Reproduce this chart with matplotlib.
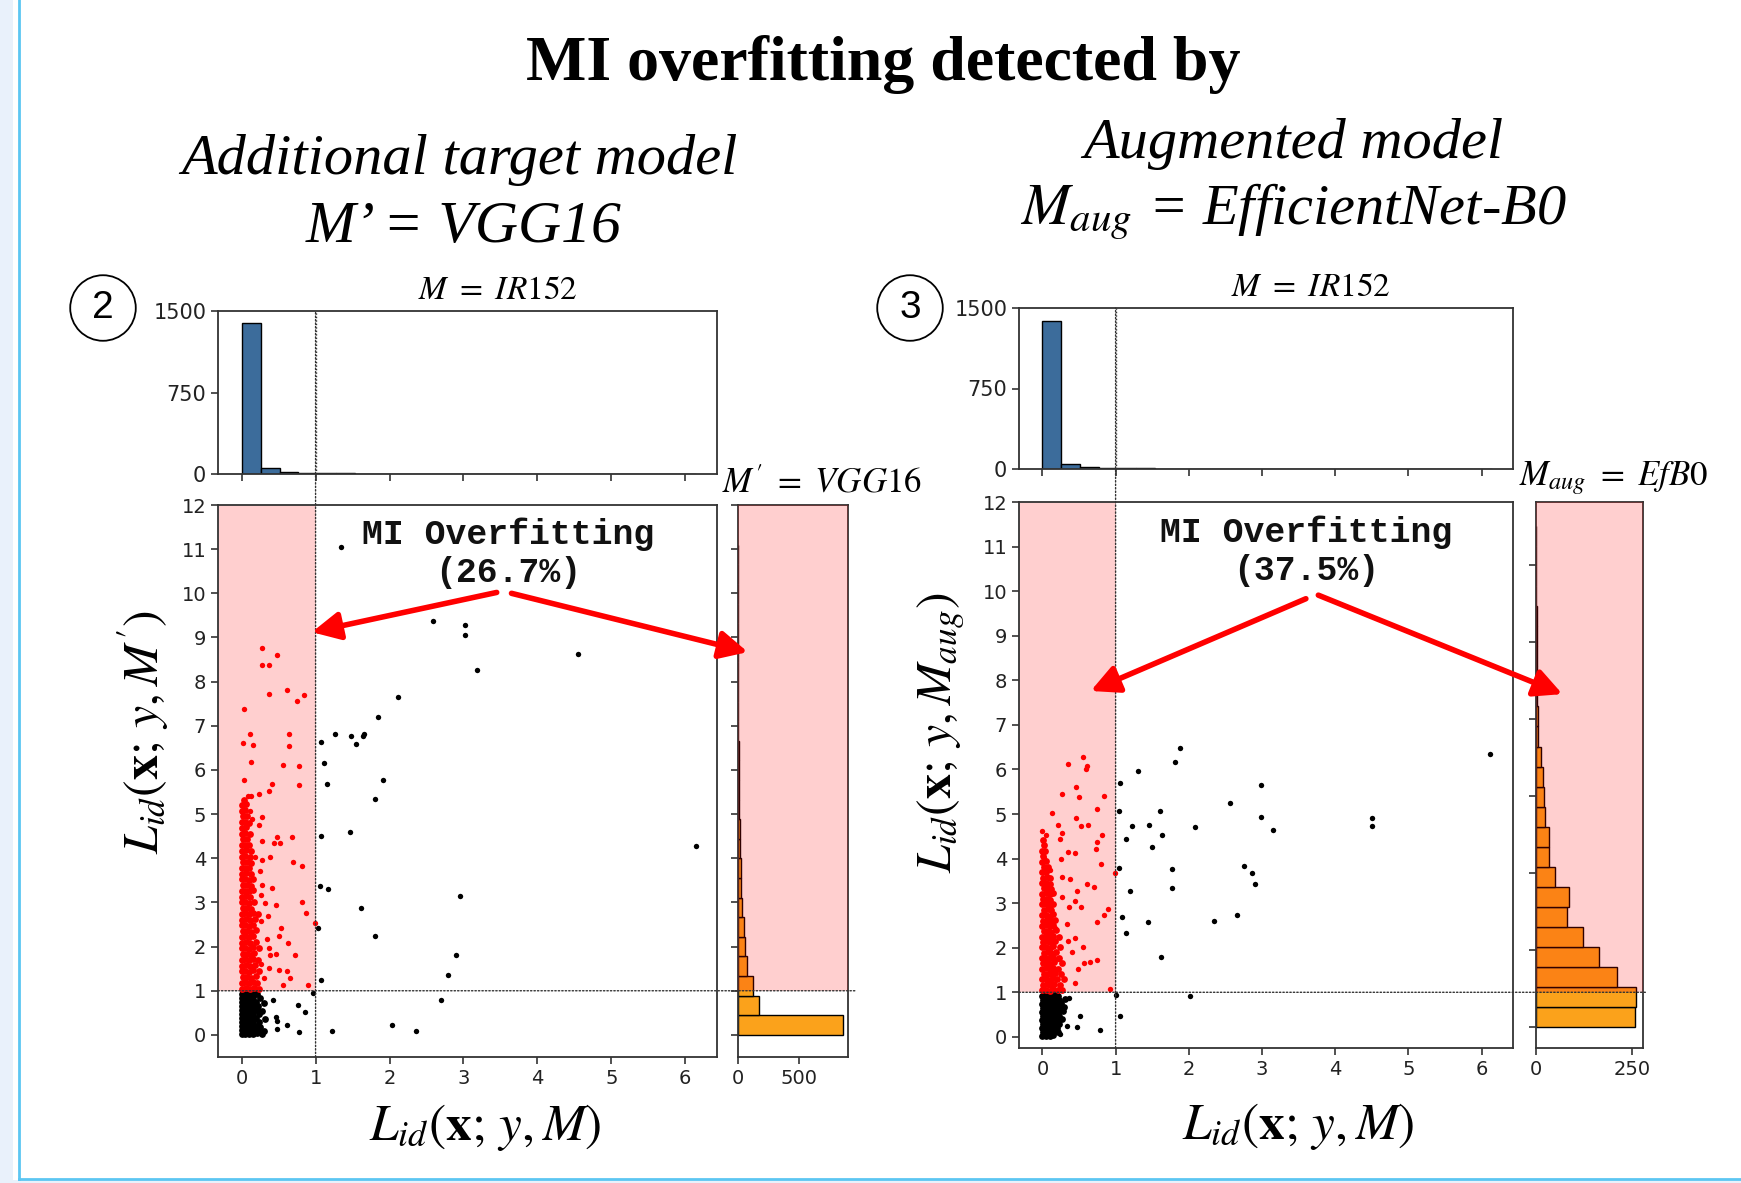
import numpy as np
import matplotlib
matplotlib.use("Agg")
import matplotlib.pyplot as plt
from matplotlib.patches import Rectangle, ConnectionPatch
from matplotlib.transforms import blended_transform_factory

plt.rcParams["mathtext.fontset"] = "stix"

THRESH = 1.0
XLIM = (-0.32, 6.43)

# ---------------- panel 2 : M' = VGG16 ----------------
vgg_pct = "26.7%"
vgg_top_counts = [1385, 55, 18, 10, 6, 5, 4, 3, 3, 2, 2, 2, 1, 2, 1, 1, 1, 2, 1, 0, 0, 0, 0, 1]
vgg_top_binw = 0.256
vgg_side_counts = [860, 175, 120, 70, 55, 47, 36, 28, 22, 17, 14, 11, 9, 7, 5, 4, 3, 3, 2, 2, 1, 1, 1, 1, 1]
vgg_side_binw = 0.444

vgg_red_sparse = [
    (0.28, 8.76), (0.48, 8.60), (0.27, 8.38), (0.37, 8.37), (0.03, 7.37), (0.37, 7.73), (0.61, 7.81),
    (0.75, 7.56), (0.85, 7.69), (0.11, 6.81), (0.02, 6.60), (0.16, 6.57), (0.64, 6.81), (0.64, 6.54),
    (0.13, 6.17), (0.56, 6.12), (0.77, 6.09), (0.03, 5.78), (0.77, 5.66), (0.37, 5.52), (0.41, 5.69),
    (0.23, 5.46), (0.12, 5.42), (0.08, 5.42), (0.11, 5.08), (0.14, 4.88), (0.28, 4.94), (0.23, 4.76),
    (0.48, 4.49), (0.68, 4.49), (0.44, 4.35), (0.52, 4.35), (0.28, 4.39), (0.18, 4.03), (0.39, 4.03),
    (0.69, 3.91), (0.82, 3.83), (0.28, 3.95), (0.25, 3.72), (0.28, 3.40), (0.41, 3.32), (0.26, 3.16),
    (0.32, 2.98), (0.47, 2.94), (0.81, 3.02), (0.36, 2.69), (0.87, 2.75), (0.26, 2.57), (0.99, 2.53),
    (0.53, 2.41), (0.50, 2.25), (0.34, 2.17), (0.63, 2.09), (0.37, 1.97), (0.46, 1.84), (0.39, 1.82),
    (0.72, 1.80), (0.26, 1.60), (0.37, 1.52), (0.50, 1.46), (0.61, 1.44), (0.66, 1.29), (0.56, 1.12),
    (0.90, 1.12), (0.30, 1.28),
]
vgg_red_dense = [
    (0.01, 1.05), (0.06, 1.06), (0.11, 1.04), (0.17, 1.07), (0.24, 1.05),
    (0.00, 1.18), (0.05, 1.19), (0.10, 1.17), (0.15, 1.20), (0.21, 1.18),
    (0.02, 1.31), (0.07, 1.32), (0.12, 1.30), (0.19, 1.33),
    (0.00, 1.44), (0.05, 1.45), (0.10, 1.43), (0.16, 1.46), (0.23, 1.44),
    (0.01, 1.57), (0.06, 1.58), (0.11, 1.56), (0.18, 1.59),
    (0.00, 1.70), (0.05, 1.71), (0.10, 1.69), (0.15, 1.72), (0.22, 1.70),
    (0.02, 1.83), (0.07, 1.84), (0.12, 1.82), (0.17, 1.85),
    (0.00, 1.96), (0.05, 1.97), (0.10, 1.95), (0.16, 1.98), (0.24, 1.96),
    (0.01, 2.09), (0.06, 2.10), (0.11, 2.08), (0.19, 2.11),
    (0.00, 2.22), (0.05, 2.23), (0.10, 2.21), (0.15, 2.24),
    (0.02, 2.35), (0.07, 2.36), (0.12, 2.34), (0.20, 2.37),
    (0.00, 2.48), (0.05, 2.49), (0.10, 2.47), (0.16, 2.50),
    (0.01, 2.61), (0.06, 2.62), (0.11, 2.60), (0.18, 2.63),
    (0.00, 2.74), (0.05, 2.75), (0.10, 2.73), (0.15, 2.76), (0.22, 2.74),
    (0.02, 2.87), (0.07, 2.88), (0.12, 2.86),
    (0.00, 3.00), (0.05, 3.01), (0.10, 2.99), (0.17, 3.02),
    (0.01, 3.13), (0.06, 3.14), (0.11, 3.12),
    (0.00, 3.26), (0.05, 3.27), (0.10, 3.25), (0.16, 3.28),
    (0.02, 3.39), (0.07, 3.40), (0.12, 3.38),
    (0.00, 3.52), (0.05, 3.53), (0.10, 3.51), (0.15, 3.54),
    (0.01, 3.65), (0.06, 3.66), (0.13, 3.64),
    (0.00, 3.78), (0.05, 3.79), (0.10, 3.77),
    (0.02, 3.91), (0.07, 3.92), (0.12, 3.90),
    (0.00, 4.04), (0.05, 4.05), (0.11, 4.03),
    (0.01, 4.17), (0.06, 4.18), (0.12, 4.16),
    (0.00, 4.30), (0.05, 4.31), (0.10, 4.29),
    (0.02, 4.43), (0.07, 4.44),
    (0.00, 4.56), (0.05, 4.57), (0.11, 4.55),
    (0.01, 4.69), (0.06, 4.70),
    (0.00, 4.82), (0.05, 4.83), (0.10, 4.81),
    (0.02, 4.95), (0.07, 4.96),
    (0.00, 5.08), (0.05, 5.09),
    (0.01, 5.21), (0.06, 5.22), (0.03, 5.32),
]
vgg_black_sparse = [
    (1.34, 11.05), (2.59, 9.37), (3.02, 9.29), (3.02, 9.06), (4.55, 8.62), (3.18, 8.26), (2.12, 7.65),
    (1.84, 7.20), (1.08, 6.63), (1.26, 6.81), (1.48, 6.76), (1.54, 6.59), (1.64, 6.78), (1.66, 6.81),
    (1.11, 6.15), (1.16, 5.69), (1.91, 5.77), (1.80, 5.34), (1.08, 4.51), (1.47, 4.59), (6.15, 4.27),
    (1.06, 3.37), (1.17, 3.30), (2.95, 3.14), (1.62, 2.88), (1.03, 2.43), (1.80, 2.23), (2.90, 1.80),
    (2.79, 1.36), (1.08, 1.24), (0.96, 0.94), (2.69, 0.79), (2.04, 0.23), (2.36, 0.08), (1.22, 0.10),
    (0.78, 0.06), (0.43, 0.79), (0.76, 0.67), (0.86, 0.53), (0.47, 0.40), (0.48, 0.31), (0.61, 0.23),
    (0.48, 0.13),
]
vgg_black_dense = [
    (0.00, 0.02), (0.05, 0.01), (0.10, 0.03), (0.15, 0.02), (0.21, 0.04), (0.27, 0.02),
    (0.01, 0.11), (0.06, 0.12), (0.11, 0.10), (0.16, 0.13), (0.22, 0.11), (0.30, 0.09),
    (0.00, 0.20), (0.05, 0.21), (0.10, 0.19), (0.15, 0.22), (0.19, 0.20), (0.25, 0.18),
    (0.01, 0.29), (0.06, 0.30), (0.11, 0.28), (0.16, 0.31), (0.23, 0.29),
    (0.00, 0.38), (0.05, 0.39), (0.10, 0.37), (0.15, 0.40), (0.20, 0.38), (0.32, 0.36),
    (0.01, 0.47), (0.06, 0.48), (0.11, 0.46), (0.16, 0.49), (0.24, 0.47),
    (0.00, 0.56), (0.05, 0.57), (0.10, 0.55), (0.15, 0.58), (0.21, 0.56), (0.28, 0.54),
    (0.01, 0.65), (0.06, 0.66), (0.11, 0.64), (0.16, 0.67), (0.22, 0.65),
    (0.00, 0.74), (0.05, 0.75), (0.10, 0.73), (0.15, 0.76), (0.20, 0.74), (0.30, 0.72),
    (0.01, 0.83), (0.06, 0.84), (0.11, 0.82), (0.16, 0.85), (0.25, 0.83),
    (0.00, 0.92), (0.05, 0.93), (0.10, 0.91), (0.15, 0.94), (0.21, 0.92),
    (0.02, 0.98), (0.08, 0.99), (0.13, 0.97), (0.18, 0.98),
]

# ---------------- panel 3 : M_aug = EfficientNet-B0 ----------------
aug_pct = "37.5%"
aug_top_counts = [1375, 45, 15, 8, 6, 5, 4, 3, 3, 2, 2, 2, 1, 1, 1, 1, 1, 2, 1, 0, 0, 0, 0, 1]
aug_top_binw = 0.256
aug_side_counts = [258, 262, 212, 165, 123, 81, 87, 50, 35, 33, 24, 20, 17, 14, 5, 4, 3, 3, 2, 2, 2, 1, 1, 1, 1]
aug_side_binw = 0.52

aug_red_sparse = [
    (0.55, 6.28), (0.35, 6.12), (0.61, 6.08), (0.59, 6.00), (0.46, 5.61), (0.27, 5.45), (0.50, 5.39),
    (0.84, 5.40), (0.13, 5.02), (0.75, 5.11), (0.46, 4.91), (0.21, 4.75), (0.53, 4.72), (0.62, 4.75),
    (0.00, 4.61), (0.05, 4.53), (0.27, 4.57), (0.24, 4.43), (0.81, 4.52), (0.74, 4.37), (0.73, 4.21),
    (0.02, 4.01), (0.25, 4.00), (0.35, 4.15), (0.45, 4.13), (0.80, 3.87), (0.11, 3.75), (0.99, 3.68),
    (0.27, 3.59), (0.38, 3.55), (0.61, 3.43), (0.70, 3.37), (0.47, 3.27), (0.27, 3.13), (0.44, 3.05),
    (0.36, 2.91), (0.53, 2.91), (0.89, 2.87), (0.84, 2.73), (0.74, 2.58), (0.34, 2.53), (0.17, 2.45),
    (0.45, 2.21), (0.35, 2.15), (0.56, 2.02), (0.40, 1.91), (0.21, 1.75), (0.57, 1.65), (0.65, 1.69),
    (0.75, 1.73), (0.49, 1.52), (0.44, 1.20), (0.93, 1.07),
]
aug_red_dense = [
    (0.00, 1.05), (0.05, 1.06), (0.10, 1.04), (0.15, 1.07), (0.21, 1.05), (0.27, 1.06),
    (0.01, 1.17), (0.06, 1.18), (0.11, 1.16), (0.16, 1.19), (0.24, 1.17),
    (0.00, 1.29), (0.05, 1.30), (0.10, 1.28), (0.15, 1.31), (0.20, 1.29), (0.30, 1.30),
    (0.02, 1.41), (0.07, 1.42), (0.12, 1.40), (0.17, 1.43), (0.25, 1.41),
    (0.00, 1.53), (0.05, 1.54), (0.10, 1.52), (0.15, 1.55), (0.21, 1.53),
    (0.01, 1.65), (0.06, 1.66), (0.11, 1.64), (0.16, 1.67), (0.27, 1.65),
    (0.00, 1.77), (0.05, 1.78), (0.10, 1.76), (0.15, 1.79), (0.22, 1.77),
    (0.02, 1.89), (0.07, 1.90), (0.12, 1.88), (0.18, 1.91),
    (0.00, 2.01), (0.05, 2.02), (0.10, 2.00), (0.15, 2.03), (0.24, 2.01),
    (0.01, 2.13), (0.06, 2.14), (0.11, 2.12), (0.17, 2.15),
    (0.00, 2.25), (0.05, 2.26), (0.10, 2.24), (0.15, 2.27), (0.22, 2.25),
    (0.02, 2.37), (0.07, 2.38), (0.12, 2.36), (0.18, 2.39),
    (0.00, 2.49), (0.05, 2.50), (0.10, 2.48), (0.15, 2.51),
    (0.01, 2.61), (0.06, 2.62), (0.11, 2.60), (0.17, 2.63),
    (0.00, 2.73), (0.05, 2.74), (0.10, 2.72), (0.15, 2.75),
    (0.02, 2.85), (0.07, 2.86), (0.12, 2.84),
    (0.00, 2.97), (0.05, 2.98), (0.10, 2.96), (0.15, 2.99),
    (0.01, 3.09), (0.06, 3.10), (0.11, 3.08),
    (0.00, 3.21), (0.05, 3.22), (0.10, 3.20), (0.14, 3.23),
    (0.02, 3.33), (0.07, 3.34), (0.12, 3.32),
    (0.00, 3.45), (0.05, 3.46), (0.10, 3.44),
    (0.01, 3.57), (0.06, 3.58), (0.11, 3.56),
    (0.00, 3.69), (0.05, 3.70), (0.02, 3.81), (0.07, 3.82),
    (0.00, 3.93), (0.05, 3.94), (0.01, 4.05), (0.00, 4.17), (0.04, 4.18),
    (0.02, 4.30), (0.01, 4.42),
]
aug_black_sparse = [
    (1.88, 6.48), (1.81, 6.16), (1.31, 5.97), (1.06, 5.70), (2.99, 5.65), (2.56, 5.25), (1.05, 5.06),
    (1.60, 5.06), (2.99, 4.93), (6.11, 6.34), (1.23, 4.74), (1.45, 4.76), (1.63, 4.53), (2.09, 4.70),
    (3.15, 4.64), (4.51, 4.91), (4.51, 4.74), (1.14, 4.43), (1.50, 4.27), (1.04, 3.79), (1.77, 3.76),
    (1.77, 3.35), (2.76, 3.83), (2.86, 3.68), (2.91, 3.43), (1.19, 3.28), (1.09, 2.69), (1.44, 2.58),
    (1.14, 2.34), (2.34, 2.61), (2.66, 2.73), (1.62, 1.80), (2.02, 0.92), (1.01, 0.95), (1.06, 0.47),
    (0.51, 0.47), (0.47, 0.22), (0.79, 0.16), (0.24, 0.06), (0.33, 0.24), (0.37, 0.88),
]
aug_black_dense = [
    (0.00, 0.02), (0.05, 0.01), (0.10, 0.03), (0.15, 0.04),
    (0.01, 0.11), (0.06, 0.12), (0.11, 0.10), (0.16, 0.13), (0.21, 0.12),
    (0.00, 0.20), (0.05, 0.21), (0.10, 0.19), (0.15, 0.22), (0.20, 0.20),
    (0.01, 0.29), (0.06, 0.30), (0.11, 0.28), (0.16, 0.31), (0.23, 0.29),
    (0.00, 0.38), (0.05, 0.39), (0.10, 0.37), (0.15, 0.40), (0.20, 0.38), (0.27, 0.40),
    (0.01, 0.47), (0.06, 0.48), (0.11, 0.46), (0.16, 0.49), (0.22, 0.47),
    (0.00, 0.56), (0.05, 0.57), (0.10, 0.55), (0.15, 0.58), (0.21, 0.56), (0.28, 0.58),
    (0.01, 0.65), (0.06, 0.66), (0.11, 0.64), (0.16, 0.67), (0.22, 0.65), (0.30, 0.66),
    (0.00, 0.74), (0.05, 0.75), (0.10, 0.73), (0.15, 0.76), (0.20, 0.74), (0.26, 0.76),
    (0.01, 0.83), (0.06, 0.84), (0.11, 0.82), (0.16, 0.85), (0.23, 0.83), (0.31, 0.84),
    (0.00, 0.92), (0.05, 0.93), (0.10, 0.91), (0.15, 0.94), (0.21, 0.92),
    (0.02, 0.98), (0.08, 0.99), (0.13, 0.97), (0.19, 0.98),
]

BLUE = "#3c6c9b"
ORANGE = "#fba21b"
W, H = 1741, 1183

fig = plt.figure(figsize=(W / 100, H / 100), dpi=100)


def px_box(l, t, r, b):
    return [l / W, 1 - b / H, (r - l) / W, (b - t) / H]


def style(ax):
    for s in ax.spines.values():
        s.set_linewidth(1.3)
        s.set_color("#333333")
    ax.tick_params(direction="out", length=5, width=1.2, labelsize=14, colors="#333333",
                   labelcolor="#222222")


def draw_panel(boxes, red_sparse, red_dense, black_sparse, black_dense, top_counts, top_w,
               side_counts, side_w, side_xlim, side_xticks, ylim, side_ylim, ylabel, side_label,
               side_label_x, top_label_x, pct, arrows, xlab_xy, ylab_xy, hline_end):
    top_box, sc_box, side_box = boxes
    ax = fig.add_axes(px_box(*sc_box))
    ax_top = fig.add_axes(px_box(*top_box), sharex=ax)
    if side_ylim is None:
        ax_side = fig.add_axes(px_box(*side_box), sharey=ax)
    else:
        ax_side = fig.add_axes(px_box(*side_box))
    for a in (ax, ax_top, ax_side):
        style(a)

    # scatter
    ax.set_xlim(*XLIM)
    ax.set_ylim(*ylim)
    ax.add_patch(Rectangle((XLIM[0], THRESH), THRESH - XLIM[0], ylim[1] - THRESH,
                           fc="red", alpha=0.19, lw=0, zorder=0))
    for pts, col, size in ((black_dense, "black", 24), (black_sparse, "black", 15),
                           (red_dense, "red", 24), (red_sparse, "red", 15)):
        pts = np.array(pts)
        ax.scatter(pts[:, 0], pts[:, 1], s=size, c=col, lw=0, zorder=2)
    ax.set_xticks(range(7))
    ax.set_yticks(range(13))
    ax.text(3.6, 10.9, "MI Overfitting\n(" + pct + ")", family="Liberation Mono",
            weight="bold", fontsize=25, ha="center", va="center", linespacing=1.2,
            color="#111111", zorder=4)
    ax.set_xlabel(r"$L_{id}(\mathbf{x};\, y, M)$", fontsize=37)
    ax.xaxis.set_label_coords(*xlab_xy)
    ax.xaxis.label.set_va("center")
    ax.set_ylabel(ylabel, fontsize=36)
    ax.yaxis.set_label_coords(*ylab_xy)
    ax.yaxis.label.set_va("center")

    # top histogram
    top_edges = np.arange(len(top_counts)) * top_w
    ax_top.bar(top_edges, top_counts, width=top_w, align="edge", color=BLUE,
               edgecolor="black", lw=1.0)
    ax_top.set_ylim(0, 1500)
    ax_top.set_yticks([0, 750, 1500])
    ax_top.tick_params(labelbottom=False, labelsize=15)
    ax_top.axvline(THRESH, color="#333333", ls=(0, (1, 1.5)), lw=1.0)
    ax_top.text(top_label_x, 1.03, r"$M\ =\ IR152$", transform=ax_top.transAxes,
                ha="center", va="bottom", fontsize=24)

    # side histogram
    side_edges = np.arange(len(side_counts)) * side_w
    ax_side.barh(side_edges, side_counts, height=side_w, align="edge", color=ORANGE,
                 edgecolor="black", lw=1.0, zorder=2)
    ax_side.set_xlim(*side_xlim)
    ax_side.set_xticks(side_xticks)
    if side_ylim is not None:
        ax_side.set_ylim(*side_ylim)
        ax_side.set_yticks(range(0, 13, 2))
    ax_side.tick_params(labelleft=False)
    mix = blended_transform_factory(ax_side.transAxes, ax.transData)
    ax_side.add_patch(Rectangle((0, THRESH), 1, ylim[1] - THRESH, transform=mix,
                                fc="red", alpha=0.19, lw=0, zorder=3))
    ax_side.text(side_label_x, 1.01, side_label, transform=ax_side.transAxes,
                 ha="center", va="bottom", fontsize=25)

    # dotted threshold lines
    fig.add_artist(ConnectionPatch((THRESH, ylim[0]), (THRESH, 1500), coordsA=ax.transData,
                                   coordsB=ax_top.transData, color="#333333",
                                   ls=(0, (1, 1.5)), lw=1.0))
    fig.add_artist(ConnectionPatch((XLIM[0], THRESH), (hline_end, THRESH), coordsA=ax.transData,
                                   coordsB=mix, color="#333333", ls=(0, (1, 1.5)), lw=1.0))

    # red arrows from the annotation
    for tail, head, to_side in arrows:
        fig.add_artist(ConnectionPatch(tail, head, coordsA=ax.transData,
                                       coordsB=blended_transform_factory(ax_side.transData, ax.transData)
                                       if to_side else ax.transData,
                                       arrowstyle="-|>", mutation_scale=42, lw=4,
                                       color="red", zorder=6))
    return ax


draw_panel(((218, 311, 717, 474), (218, 505, 717, 1057), (738, 505, 848, 1057)),
           vgg_red_sparse, vgg_red_dense, vgg_black_sparse, vgg_black_dense,
           vgg_top_counts, vgg_top_binw, vgg_side_counts, vgg_side_binw, (0, 900), [0, 500],
           (-0.5, 12), None, r"$L_{id}(\mathbf{x};\, y, M')$", r"$M'\ =\ VGG16$", 0.76, 0.56,
           vgg_pct, [((3.45, 10.02), (0.95, 9.12), False), ((3.65, 10.0), (80, 8.67), True)],
           (0.535, -0.127), (-0.149, 0.588), 1.08)

draw_panel(((1019, 308, 1513, 469), (1019, 502, 1513, 1048), (1536, 502, 1643, 1048)),
           aug_red_sparse, aug_red_dense, aug_black_sparse, aug_black_dense,
           aug_top_counts, aug_top_binw, aug_side_counts, aug_side_binw, (0, 279), [0, 250],
           (-0.25, 12), (-0.55, 13.63), r"$L_{id}(\mathbf{x};\, y, M_{aug})$",
           r"$M_{aug}\ =\ EfB0$", 0.72, 0.59,
           aug_pct, [((3.6, 9.83), (0.66, 7.76), False), ((3.77, 9.91), (69, 7.69), True)],
           (0.566, -0.144), (-0.157, 0.577), 1.03)

# titles
fig.text(883 / W, 1 - 80 / H, "MI overfitting detected by", family="Liberation Serif",
         weight="bold", fontsize=46, ha="center", va="baseline")
fig.text(459 / W, 1 - 174 / H, "Additional target model", family="Liberation Serif",
         style="italic", fontsize=42, ha="center", va="baseline")
fig.text(464 / W, 1 - 242 / H, "M\u2019 = VGG16", family="Liberation Serif",
         style="italic", fontsize=43, ha="center", va="baseline")
fig.text(1293 / W, 1 - 158 / H, "Augmented model", family="Liberation Serif",
         style="italic", fontsize=42, ha="center", va="baseline")
fig.text(1293 / W, 1 - 224 / H, r"$M_{aug}$ = EfficientNet-B0", family="Liberation Serif",
         style="italic", fontsize=42, ha="center", va="baseline")

# circled step numbers
for num, cx in (("2", 103), ("3", 910)):
    fig.text(cx / W, 1 - 308 / H, num, family="Liberation Sans", fontsize=28, ha="center",
             va="center", bbox=dict(boxstyle="circle,pad=0.38", fc="white", ec="black", lw=1.3))

# slide frame
fig.add_artist(Rectangle((0, 0), 13 / W, 1, transform=fig.transFigure, fc="#e9f1fb", lw=0))
fig.add_artist(Rectangle((0, 0), 1, 3 / H, transform=fig.transFigure, fc="#e9f1fb", lw=0))
fig.add_artist(plt.Line2D([19 / W, 19 / W], [4 / H, 1], transform=fig.transFigure,
                          color="#5cc6f2", lw=2))
fig.add_artist(plt.Line2D([19 / W, 1], [4 / H, 4 / H], transform=fig.transFigure,
                          color="#5cc6f2", lw=2))

fig.savefig("out.png", dpi=100)
